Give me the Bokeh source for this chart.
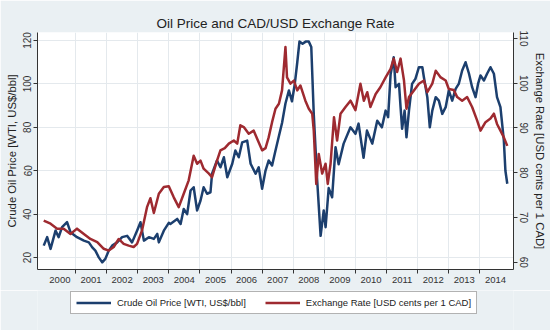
from bokeh.plotting import figure
from bokeh.layouts import column
from bokeh.models import (Range1d, LinearAxis, FixedTicker, Legend, LegendItem,
                          CustomJSTickFormatter)
from bokeh.embed import file_html
from bokeh.resources import INLINE

# ---- data (decimal year, value) ----
oil_t = [1999.98, 2000.09, 2000.20, 2000.36, 2000.46, 2000.57, 2000.73, 2000.84,
         2001.05, 2001.27, 2001.43, 2001.54, 2001.64, 2001.75, 2001.86, 2001.96,
         2002.07, 2002.18, 2002.34, 2002.50, 2002.66, 2002.82, 2002.98, 2003.09,
         2003.20, 2003.36, 2003.52, 2003.63, 2003.68, 2003.84, 2004.00, 2004.05,
         2004.27, 2004.38, 2004.48, 2004.59, 2004.70, 2004.80, 2004.91, 2005.02,
         2005.12, 2005.23, 2005.34, 2005.39, 2005.55, 2005.66, 2005.77, 2005.88,
         2006.04, 2006.14, 2006.25, 2006.36, 2006.52, 2006.63, 2006.79, 2006.89,
         2007.00, 2007.11, 2007.21, 2007.32, 2007.43, 2007.54, 2007.64, 2007.75,
         2007.86, 2007.96, 2008.05, 2008.13, 2008.20, 2008.30, 2008.40, 2008.50,
         2008.58, 2008.66, 2008.77, 2008.88, 2008.98, 2009.04, 2009.14, 2009.25,
         2009.36, 2009.46, 2009.62, 2009.84, 2010.00, 2010.10, 2010.26, 2010.37,
         2010.54, 2010.70, 2010.85, 2010.97, 2011.05, 2011.13, 2011.23, 2011.29,
         2011.40, 2011.45, 2011.50, 2011.58, 2011.64, 2011.72, 2011.82, 2011.93,
         2012.04, 2012.15, 2012.20, 2012.31, 2012.39, 2012.47, 2012.58, 2012.68,
         2012.79, 2012.90, 2013.00, 2013.11, 2013.22, 2013.32, 2013.43, 2013.54,
         2013.65, 2013.75, 2013.86, 2013.94, 2014.02, 2014.13, 2014.23, 2014.34,
         2014.45, 2014.55, 2014.66, 2014.77, 2014.82, 2014.88]
oil_v = [25.5, 29.4, 24.0, 32.4, 29.4, 34.0, 36.3, 31.7,
         29.4, 27.8, 27.0, 24.7, 23.2, 20.1, 17.8, 19.4,
         23.2, 25.5, 27.0, 29.4, 30.0, 27.0, 32.4, 36.3,
         27.8, 29.4, 28.6, 30.9, 27.0, 32.4, 36.0, 35.5,
         37.8, 35.5, 42.4, 40.0, 50.9, 52.4, 41.7, 46.3,
         52.4, 49.4, 50.1, 58.6, 64.7, 61.6, 66.2, 57.0,
         63.2, 69.3, 66.2, 73.1, 73.9, 63.2, 58.6, 61.6,
         51.7, 60.1, 64.7, 62.4, 69.3, 76.0, 82.0, 91.0,
         97.0, 92.0, 100.0, 110.0, 119.5, 118.5, 119.5, 119.5,
         117.0, 86.0, 55.5, 30.0, 41.7, 34.0, 52.0, 47.8,
         70.8, 63.0, 72.5, 80.0, 77.0, 81.7, 66.0, 78.5,
         72.5, 83.0, 80.0, 87.7, 84.7, 104.5, 112.3, 98.5,
         100.0, 89.3, 79.3, 87.7, 75.4, 87.7, 100.0, 102.4,
         107.7, 107.7, 103.1, 93.9, 80.0, 87.7, 93.9, 92.3,
         86.2, 89.3, 97.0, 92.3, 97.7, 100.0, 106.2, 110.0,
         104.7, 98.5, 93.9, 100.0, 103.9, 101.6, 104.7, 107.7,
         104.7, 93.9, 89.3, 73.9, 60.0, 54.0]

cad_t = [1999.98, 2000.20, 2000.41, 2000.62, 2000.84, 2001.05, 2001.27, 2001.48,
         2001.70, 2001.91, 2002.07, 2002.23, 2002.39, 2002.55, 2002.71, 2002.87,
         2002.98, 2003.14, 2003.30, 2003.41, 2003.52, 2003.68, 2003.84, 2004.00,
         2004.16, 2004.32, 2004.48, 2004.64, 2004.80, 2004.91, 2005.02, 2005.12,
         2005.29, 2005.39, 2005.55, 2005.66, 2005.80, 2005.93, 2006.09, 2006.20,
         2006.30, 2006.41, 2006.57, 2006.73, 2006.84, 2007.00, 2007.11, 2007.21,
         2007.32, 2007.43, 2007.54, 2007.64, 2007.75, 2007.80, 2007.91, 2008.02,
         2008.13, 2008.23, 2008.39, 2008.50, 2008.61, 2008.66, 2008.74, 2008.82,
         2008.93, 2009.04, 2009.11, 2009.20, 2009.31, 2009.41, 2009.52, 2009.68,
         2009.84, 2010.00, 2010.16, 2010.27, 2010.38, 2010.48, 2010.65, 2010.80,
         2010.97, 2011.13, 2011.23, 2011.34, 2011.45, 2011.56, 2011.64, 2011.72,
         2011.88, 2012.04, 2012.20, 2012.31, 2012.47, 2012.58, 2012.74, 2012.90,
         2013.00, 2013.16, 2013.27, 2013.43, 2013.59, 2013.75, 2013.91, 2014.02,
         2014.18, 2014.34, 2014.45, 2014.55, 2014.66, 2014.77, 2014.88]
cad_v = [69.3, 68.6, 67.5, 67.5, 66.3, 67.5, 66.3, 65.2,
         64.5, 63.0, 62.6, 63.4, 65.2, 64.1, 63.7, 63.4,
         64.1, 67.1, 72.3, 74.3, 71.0, 75.3, 76.8, 77.0,
         74.5, 72.3, 75.3, 78.3, 83.8, 82.0, 82.7, 80.9,
         79.8, 79.0, 82.7, 85.0, 85.5, 86.5, 87.2, 86.5,
         90.6, 90.2, 88.7, 89.4, 87.6, 85.0, 85.5, 87.9,
         91.3, 94.3, 95.4, 98.4, 108.1, 101.3, 99.9, 100.6,
         98.4, 99.5, 96.1, 94.3, 93.2, 89.4, 77.5, 84.2,
         79.8, 82.0, 77.5, 82.0, 92.4, 87.2, 93.2, 94.7,
         96.1, 94.0, 99.9, 96.1, 98.0, 94.7, 97.6, 99.1,
         101.3, 103.2, 105.5, 102.5, 105.5, 100.6, 94.3, 96.9,
         98.4, 99.9, 100.6, 98.0, 99.9, 102.8, 101.3, 100.6,
         98.7, 98.5, 96.9, 96.1, 96.9, 94.7, 91.7, 89.4,
         91.3, 92.1, 93.2, 90.9, 89.4, 87.9, 86.0]

years = list(range(2000, 2015))
oil_ticks = [20, 40, 60, 80, 100, 120]
cad_ticks = [60, 70, 80, 90, 100, 110]

title = "Oil Price and CAD/USD Exchange Rate"
oil_label = "Crude Oil Price [WTI, US$/bbl]"
cad_label = "Exchange Rate [USD cents per 1 CAD]"

NAVY = "#1c3f6e"
MAROON = "#9e2a30"
BG = "#eaf0f3"
FONT = "Liberation Sans"

# ---------------- main chart ----------------
p = figure(width=550, height=290, output_backend="svg", toolbar_location=None,
           x_range=Range1d(1999.78, 2015.08), y_range=Range1d(14.5, 123.7),
           min_border_left=37, min_border_right=37, min_border_top=32,
           min_border_bottom=21, background_fill_color="white",
           border_fill_color=BG, title=title)
p.outline_line_color = None
p.extra_y_ranges = {"cad": Range1d(58.37, 111.34)}

p.title.align = "center"
p.title.text_font = FONT
p.title.text_font_size = "13.5px"
p.title.text_font_style = "normal"
p.title.text_color = "#222222"
p.title.standoff = 4

p.line(oil_t, oil_v, line_color=NAVY, line_width=2.5, line_join="round")
p.line(cad_t, cad_v, line_color=MAROON, line_width=2.5, line_join="round",
       y_range_name="cad")

p.xgrid.ticker = FixedTicker(ticks=years[1:])
p.ygrid.ticker = FixedTicker(ticks=oil_ticks)
for g in (p.xgrid, p.ygrid):
    g.grid_line_color = "#e4e9ed"
    g.grid_line_width = 1

xa = p.xaxis[0]
xa.ticker = FixedTicker(ticks=[y + 0.5 for y in years], minor_ticks=years[1:])
xa.formatter = CustomJSTickFormatter(code="return String(Math.floor(tick));")
xa.major_tick_out = 0
xa.major_tick_in = 0
xa.minor_tick_out = 4
xa.minor_tick_in = 0
xa.major_label_standoff = 3
xa.major_label_text_font_size = "9.5px"

ya = p.yaxis[0]
ya.ticker = FixedTicker(ticks=oil_ticks)
ya.axis_label = oil_label
ya.major_label_orientation = "vertical"

ra = LinearAxis(y_range_name="cad", ticker=FixedTicker(ticks=cad_ticks),
                axis_label=cad_label, major_label_orientation="vertical")
p.add_layout(ra, "right")

for ax in (ya, ra):
    ax.major_tick_out = 4
    ax.major_tick_in = 0
    ax.minor_tick_out = 0
    ax.minor_tick_in = 0
    ax.major_label_standoff = 2
    ax.axis_label_standoff = 3
    ax.major_label_text_font_size = "10px"
    ax.axis_label_text_font_size = "11.3px"

for ax in (xa, ya, ra):
    ax.axis_line_color = "#333333"
    ax.major_tick_line_color = "#333333"
    ax.minor_tick_line_color = "#333333"
    ax.major_label_text_font = FONT
    ax.major_label_text_color = "#333333"
    ax.axis_label_text_font = FONT
    ax.axis_label_text_font_style = "normal"
    ax.axis_label_text_color = "#222222"

# ---------------- legend strip (series lie outside its view) ----------------
lf = figure(width=550, height=40, output_backend="svg", toolbar_location=None,
            x_range=Range1d(0, 1), y_range=Range1d(0, 1),
            x_axis_location=None, y_axis_location=None,
            min_border=0, background_fill_color=BG, border_fill_color=BG)
lf.outline_line_color = None
lf.grid.visible = False
k_oil = lf.line(oil_t, oil_v, line_color=NAVY, line_width=2.5)
k_cad = lf.line(cad_t, cad_v, line_color=MAROON, line_width=2.5)

legend = Legend(items=[LegendItem(label=oil_label, renderers=[k_oil]),
                       LegendItem(label=cad_label, renderers=[k_cad])],
                orientation="horizontal", location=(33, 16))
legend.label_text_font = FONT
legend.label_text_font_size = "9.5px"
legend.label_text_color = "#222222"
legend.glyph_width = 35
legend.glyph_height = 11
legend.label_height = 11
legend.label_standoff = 6
legend.spacing = 19
legend.padding = 5
legend.margin = 0
legend.border_line_color = "#666666"
legend.background_fill_color = "white"
legend.background_fill_alpha = 1
lf.add_layout(legend)

layout = column(p, lf, spacing=0)
open("out.html", "w").write(file_html(layout, INLINE))
